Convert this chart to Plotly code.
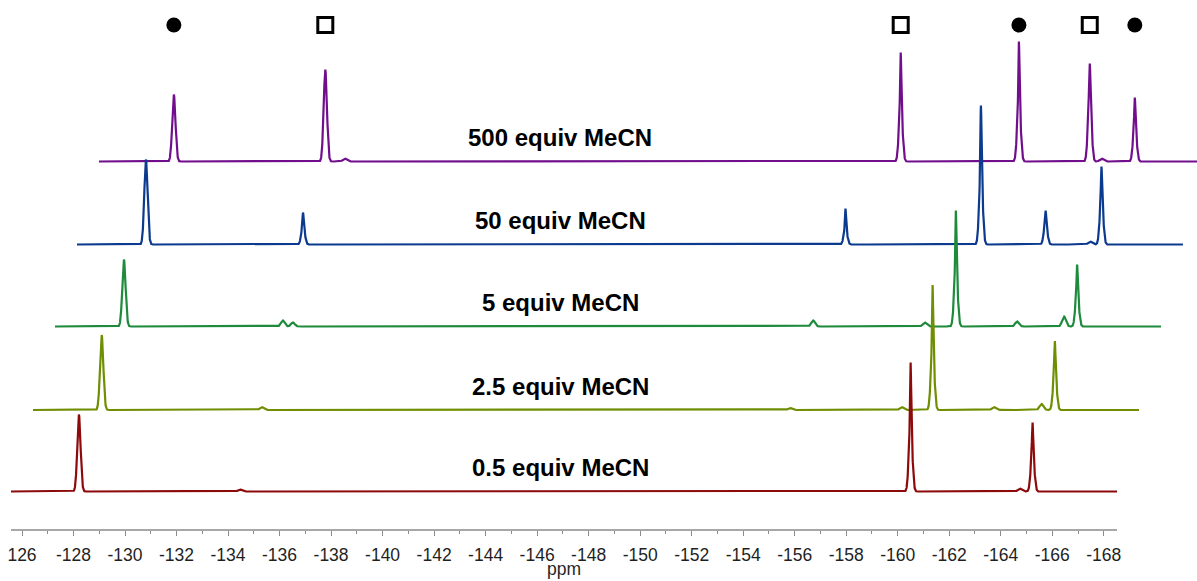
import numpy as np
import plotly.graph_objects as go

# ---- data -------------------------------------------------------------
# Stacked 19F NMR spectra of the titration with MeCN.
# For every spectrum: chemical shifts (ppm), peak top height and the height
# of the broader multiplet body under the sharp central line (arb. units).
labels = ["0.5 equiv MeCN", "2.5 equiv MeCN", "5 equiv MeCN",
          "50 equiv MeCN", "500 equiv MeCN"]

shift_05 = [-128.21, -134.46, -160.50, -164.74, -165.235]
top_05 = [77, 2, 129, 3, 69]
body_05 = [74, 2, 69, 3, 42]

shift_25 = [-128.24, -134.45, -154.96, -159.30, -160.50, -162.88, -164.73, -165.247]
top_25 = [75, 3, 2, 3, 125, 3, 6, 69]
body_25 = [73, 3, 2, 3, 66, 3, 6, 42]

shift_5 = [-128.25, -134.42, -134.81, -155.01, -159.34, -160.55, -162.93, -164.75, -165.258]
top_5 = [67, 6, 4, 6, 4, 116, 5, 10, 62]
body_5 = [65, 6, 4, 5, 4, 63, 5, 10, 37]

shift_50 = [-128.25, -134.35, -155.41, -160.67, -163.18, -164.91, -165.35]
top_50 = [85, 32, 36, 139, 34, 3, 78]
body_50 = [83, 20, 17, 77, 23, 3, 48]

shift_500 = [-128.48, -134.36, -135.12, -156.70, -161.29, -164.04, -164.50, -165.79]
top_500 = [67, 92, 3, 109, 120, 98, 3, 64]
body_500 = [64, 88, 3, 61, 64, 73, 3, 40]

# assignment symbols above the 500 equiv spectrum (index into shift_500)
mark_peaks = [0, 1, 3, 4, 5, 7]
mark_kind = ["circle", "square-open", "square-open", "circle", "square-open", "circle"]

tick_vals = list(range(-126, -169, -2))
tick_text = ["126"] + [str(v) for v in tick_vals[1:]]

# ---- styling / layout -------------------------------------------------
colors = ["#8C0A0A", "#6F8E02", "#1E8A3C", "#0B3A8E", "#710E8C"]
baselines = [38.5, 120.0, 203.5, 285.5, 368.5]   # vertical stacking
SKEW = 0.854                                      # horizontal stacking (ppm per level)
PPM_LO, PPM_HI = -125.573, -168.514              # recorded window
SIG_BODY, SIG_SPIKE, SIG_SMALL = 0.065, 0.02, 0.075
AXIS_GREY = "#8a8a8a"

W, H = 1197, 581
PX_PER_PPM = 1106 / (PPM_LO - PPM_HI)
X_LEFT = PPM_LO + 11 / PX_PER_PPM
X_RIGHT = X_LEFT - W / PX_PER_PPM

grid = np.arange(PPM_LO, PPM_HI, -0.004)


def spectrum(shifts, tops, bodies):
    y = np.zeros_like(grid)
    for s, t, b in zip(shifts, tops, bodies):
        if t <= 12:
            y += t * np.exp(-0.5 * ((grid - s) / SIG_SMALL) ** 2)
        else:
            y += b * np.exp(-0.5 * ((grid - s) / SIG_BODY) ** 2)
            y += (t - b) * np.exp(-0.5 * ((grid - s) / SIG_SPIKE) ** 2)
    return y


spectra = [
    (shift_05, top_05, body_05),
    (shift_25, top_25, body_25),
    (shift_5, top_5, body_5),
    (shift_50, top_50, body_50),
    (shift_500, top_500, body_500),
]

fig = go.Figure()

# top spectrum first so lower ones are drawn over it
for k in reversed(range(len(spectra))):
    sh, tp, bd = spectra[k]
    fig.add_trace(go.Scatter(
        x=grid - k * SKEW, y=baselines[k] + spectrum(sh, tp, bd),
        mode="lines", line=dict(color=colors[k], width=2.2),
        showlegend=False, hoverinfo="skip"))

# assignment markers
top_k = len(spectra) - 1
for idx, kind in zip(mark_peaks, mark_kind):
    fig.add_trace(go.Scatter(
        x=[shift_500[idx] - top_k * SKEW], y=[505],
        mode="markers",
        marker=dict(symbol=kind, size=15, color="black",
                    line=dict(color="black", width=3 if kind != "circle" else 0)),
        showlegend=False, hoverinfo="skip"))

for k, lab in enumerate(labels):
    fig.add_annotation(
        x=560 / W, xref="paper", y=baselines[k] + 24, yref="y",
        text="<b>" + lab + "</b>", showarrow=False,
        xanchor="center", yanchor="middle",
        font=dict(family="Liberation Sans, Arial", size=24, color="black"))

fig.add_annotation(
    x=564 / W, xref="paper", y=-39 / 530, yref="paper",
    text="ppm", showarrow=False, xanchor="center", yanchor="middle",
    font=dict(family="Liberation Sans, Arial", size=17.5, color="#262626"))

# ppm scale line spanning the recorded window only
fig.add_shape(type="line", xref="x", yref="paper",
              x0=PPM_LO, x1=PPM_HI, y0=0, y1=0,
              line=dict(color=AXIS_GREY, width=1.5))

fig.update_layout(
    width=W, height=H,
    margin=dict(l=0, r=0, t=0, b=51),
    plot_bgcolor="white", paper_bgcolor="white",
    xaxis=dict(
        domain=[0, 1], range=[X_LEFT, X_RIGHT],
        showline=False, ticks="outside", ticklen=5, tickwidth=1.3,
        tickcolor=AXIS_GREY, ticklabelstandoff=4,
        tickvals=tick_vals, ticktext=tick_text,
        minor=dict(tickvals=list(range(-127, -168, -2)), ticks="outside",
                   ticklen=3, tickwidth=1.3, tickcolor=AXIS_GREY),
        tickfont=dict(family="Liberation Sans, Arial", size=17.5, color="#1f1f1f"),
        showgrid=False, zeroline=False),
    yaxis=dict(domain=[0, 1], range=[0, 530], visible=False),
)

fig.write_html("out.html")
